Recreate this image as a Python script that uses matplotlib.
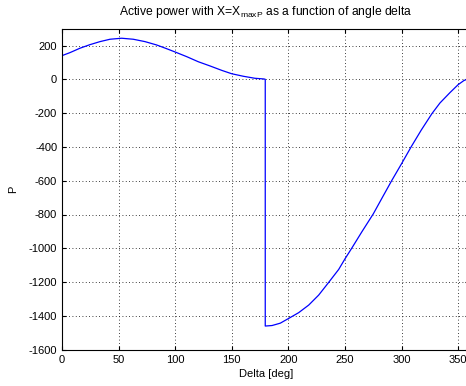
import matplotlib
matplotlib.use("Agg")
import matplotlib.pyplot as plt

plt.rcParams['font.family'] = ['Liberation Sans', 'DejaVu Sans']
plt.rcParams['mathtext.fontset'] = 'custom'
plt.rcParams['mathtext.rm'] = 'Liberation Sans'
plt.rcParams['mathtext.it'] = 'Liberation Sans'
plt.rcParams['axes.unicode_minus'] = False

# Data
delta = [0, 7.1, 15.9, 24.7, 33.6, 42.4, 52.7, 63.0, 73.3, 83.7, 92.5, 99.8,
         110.2, 120.4, 130.8, 141.1, 149.9, 160.2, 170.5, 178.5, 179.6,
         179.6, 185.6, 192.9, 200.0, 209.1, 218.0, 226.8, 235.5, 244.5, 250.0,
         255.7, 265.1, 275.1, 283.0, 291.3, 300.0, 308.5, 317.5, 327.0, 334.0,
         342.8, 350.0, 355.0, 360.0]
power = [140, 158, 184, 205, 223, 237, 243, 237, 223, 203, 181, 162,
         134, 104, 79, 53, 33, 18, 6, 2, 0,
         -1460, -1457, -1443, -1416, -1381, -1336, -1277, -1203, -1125, -1063,
         -1003, -901, -796, -700, -600, -500, -400, -300, -202, -140,
         -79, -32, -8, 7]

xticks = [0, 50, 100, 150, 200, 250, 300, 350]
yticks = [-1600, -1400, -1200, -1000, -800, -600, -400, -200, 0, 200]

fig = plt.figure(figsize=(4.66, 3.86), dpi=100)
ax = fig.add_axes([62/466, 1 - 349.7/386, (469.4-62)/466, (349.7-28.6)/386])
ax.plot(delta, power, color=(0, 0, 1), lw=0.9)
ax.set_xlim(0, 360)
ax.set_ylim(-1600, 300)
ax.set_xticks(xticks)
ax.set_yticks(yticks)
ax.grid(True, color='black', linestyle=(0, (1, 3)), linewidth=0.6)
ax.tick_params(direction='in', length=3, labelsize=8, top=True, right=True, colors='black')
for s in ax.spines.values():
    s.set_linewidth(0.8)
ax.set_title(r'Active power with X=X$_{\mathrm{maxP}}$ as a function of angle delta', fontsize=8.7, pad=10)
ax.set_xlabel('Delta [deg]', fontsize=8, labelpad=3)
ax.set_ylabel('P', fontsize=8)
ax.yaxis.set_label_coords(-0.108, 0.5)
fig.savefig('out.png', dpi=100)
